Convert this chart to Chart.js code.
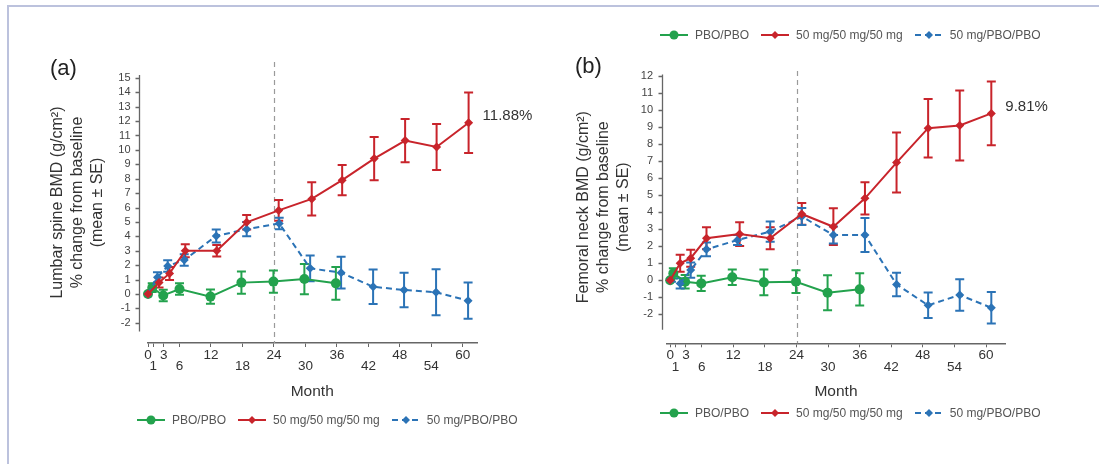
<!DOCTYPE html>
<html>
<head>
<meta charset="utf-8">
<script src="https://cdn.jsdelivr.net/npm/chart.js@4.4.1/dist/chart.umd.min.js"></script>
<style>
  html, body { margin: 0; padding: 0; background: #fff; }
  body { width: 1099px; height: 464px; position: relative; overflow: hidden; font-family: "Liberation Sans", Arial, sans-serif; }
  .frame { position: absolute; left: 7px; top: 5px; right: -10px; bottom: -10px; border-top: 2px solid #bcc2dd; border-left: 2px solid #bcc2dd; }
  .panel { position: absolute; top: 0; }
  .tag { position: absolute; font-size: 22px; line-height: 22px; color: #222; }
  .legend { position: absolute; display: flex; align-items: center; font-size: 12px; line-height: 14px; color: #555; white-space: nowrap; }
  .legend .item { display: flex; align-items: center; margin-right: 12px; }
  .legend svg { margin-right: 7px; }
</style>
</head>
<body>
<div class="frame"></div>
<canvas id="spine" class="panel" width="549" height="464" style="left:0"></canvas>
<canvas id="neck" class="panel" width="550" height="464" style="left:549px"></canvas>
<div class="tag" style="left:50px; top:57px">(a)</div>
<div class="tag" style="left:575px; top:55px">(b)</div>
<div class="legend" id="legendA" style="left:137px; top:413px"></div>
<div class="legend" id="legendBTop" style="left:660px; top:28px"></div>
<div class="legend" id="legendB" style="left:660px; top:406px"></div>

<script>
const seriesNames = ['PBO/PBO', '50 mg/50 mg/50 mg', '50 mg/PBO/PBO'];
const monthTicks = [0, 1, 3, 6, 12, 18, 24, 30, 36, 42, 48, 54, 60];
const upperRowMonths = [0, 3, 12, 24, 36, 48, 60];

// (a) lumbar spine
const spineTicks = [15, 14, 13, 12, 11, 10, 9, 8, 7, 6, 5, 4, 3, 2, 1, 0, -1, -2];
const spinePboX = [0, 0.8, 2.9, 6, 11.9, 17.8, 23.9, 29.8, 35.8];
const spinePboY = [0, 0.44, -0.1, 0.35, -0.18, 0.79, 0.86, 1.04, 0.74];
const spinePboSE = [0, 0.3, 0.4, 0.4, 0.5, 0.77, 0.77, 1.05, 1.13];
const spineContX = [0, 2.1, 4.1, 7.1, 13.1, 18.8, 24.9, 31.2, 37, 43.1, 49, 55, 61.1];
const spineContY = [0, 0.8, 1.43, 3.0, 3.0, 4.98, 5.8, 6.6, 7.9, 9.4, 10.65, 10.2, 11.88];
const spineContSE = [0, 0.35, 0.45, 0.45, 0.4, 0.5, 0.72, 1.15, 1.05, 1.5, 1.5, 1.6, 2.1];
const spineStopX = [0, 1.8, 3.75, 6.9, 13, 18.8, 25, 30.9, 36.8, 42.9, 48.8, 54.9, 61];
const spineStopY = [0, 1.16, 1.94, 2.36, 4.03, 4.5, 4.9, 1.78, 1.48, 0.5, 0.28, 0.12, -0.46];
const spineStopSE = [0, 0.35, 0.4, 0.4, 0.45, 0.5, 0.4, 0.9, 1.1, 1.2, 1.2, 1.6, 1.26];

// (b) femoral neck
const neckTicks = [12, 11, 10, 9, 8, 7, 6, 5, 4, 3, 2, 1, 0, -1, -2];
const neckPboX = [0, 0.6, 2.85, 5.9, 11.8, 17.8, 23.9, 29.9, 36];
const neckPboY = [0, 0.41, -0.08, -0.18, 0.18, -0.12, -0.08, -0.73, -0.53];
const neckPboSE = [0, 0.3, 0.4, 0.45, 0.45, 0.75, 0.67, 1.03, 0.95];
const neckContX = [0, 1.9, 3.9, 6.9, 13.2, 19, 25, 31, 37, 43, 49, 55, 61];
const neckContY = [0, 1.0, 1.3, 2.47, 2.72, 2.47, 3.9, 3.15, 4.82, 6.92, 8.94, 9.1, 9.81];
const neckContSE = [0, 0.5, 0.5, 0.65, 0.7, 0.65, 0.64, 1.08, 0.95, 1.76, 1.72, 2.06, 1.88];
const neckStopX = [0, 1.9, 3.9, 6.9, 12.8, 19, 25, 31, 37, 43, 49, 55, 61];
const neckStopY = [0, -0.18, 0.6, 1.82, 2.37, 2.86, 3.75, 2.66, 2.66, -0.24, -1.47, -0.86, -1.61];
const neckStopSE = [0, 0.3, 0.45, 0.4, 0.3, 0.6, 0.5, 0.5, 1.0, 0.69, 0.75, 0.93, 0.93];

const seriesStyle = [
  { color: '#23a24d', dash: [], point: 'circle', radius: 5, order: 2 },
  { color: '#c8242b', dash: [], point: 'rectRot', radius: 4.5, order: 0 },
  { color: '#2b73b6', dash: [6, 4], point: 'rectRot', radius: 4.5, order: 1 },
];

const FONT = '"Liberation Sans", Arial, sans-serif';

function points(xs, ys) {
  return xs.map((x, i) => ({ x: x, y: ys[i] }));
}

// error bars, month-24 divider, detached y axis and end label
const panelDecor = {
  id: 'panelDecor',
  beforeDatasetsDraw(chart, args, opts) {
    const { ctx, chartArea, scales: { x, y } } = chart;
    ctx.save();

    ctx.strokeStyle = '#9a9a9a';
    ctx.lineWidth = 1.2;
    ctx.setLineDash([5, 4]);
    const dx = Math.round(x.getPixelForValue(opts.divider)) + 0.5;
    ctx.beginPath();
    ctx.moveTo(dx, chartArea.top);
    ctx.lineTo(dx, chartArea.bottom);
    ctx.stroke();
    ctx.setLineDash([]);

    const ax = Math.round(x.getPixelForValue(opts.yAxisAt)) + 0.5;
    ctx.strokeStyle = '#666';
    ctx.lineWidth = 1.3;
    ctx.beginPath();
    ctx.moveTo(ax, y.getPixelForValue(opts.yAxisFrom));
    ctx.lineTo(ax, y.getPixelForValue(opts.yAxisTo));
    y.ticks.forEach((t) => {
      const py = Math.round(y.getPixelForValue(t.value)) + 0.5;
      ctx.moveTo(ax - 4, py);
      ctx.lineTo(ax, py);
    });
    ctx.stroke();

    chart.data.datasets.forEach((ds) => {
      ctx.strokeStyle = ds.borderColor;
      ctx.lineWidth = 2;
      ds.data.forEach((p, j) => {
        const e = ds.errors[j];
        if (!e) return;
        const px = x.getPixelForValue(p.x);
        const hi = y.getPixelForValue(p.y + e);
        const lo = y.getPixelForValue(p.y - e);
        ctx.beginPath();
        ctx.moveTo(px, hi);
        ctx.lineTo(px, lo);
        ctx.moveTo(px - 4.5, hi);
        ctx.lineTo(px + 4.5, hi);
        ctx.moveTo(px - 4.5, lo);
        ctx.lineTo(px + 4.5, lo);
        ctx.stroke();
      });
    });
    ctx.restore();
  },
  afterDatasetsDraw(chart, args, opts) {
    const { ctx, scales: { x, y } } = chart;
    const ds = chart.data.datasets[opts.labelSeries];
    const last = ds.data[ds.data.length - 1];
    ctx.save();
    ctx.fillStyle = '#333';
    ctx.font = '15px ' + FONT;
    ctx.textBaseline = 'middle';
    ctx.fillText(last.y.toFixed(2) + '%', x.getPixelForValue(last.x) + 14, y.getPixelForValue(last.y) - 7);
    ctx.restore();
  },
};

function makePanel(id, cfg) {
  const datasets = cfg.series.map((s, i) => {
    const st = seriesStyle[i];
    return {
      label: seriesNames[i],
      data: points(s.x, s.y),
      errors: s.se,
      borderColor: st.color,
      backgroundColor: st.color,
      borderWidth: 2,
      borderDash: st.dash,
      pointStyle: st.point,
      pointRadius: st.radius,
      pointBorderWidth: 0,
      order: st.order,
      tension: 0,
      clip: false,
    };
  });

  return new Chart(document.getElementById(id), {
    type: 'line',
    data: { datasets: datasets },
    options: {
      responsive: false,
      animation: false,
      devicePixelRatio: 1,
      layout: { padding: cfg.padding },
      plugins: {
        legend: { display: false },
        tooltip: { enabled: false },
        panelDecor: {
          divider: 24,
          yAxisAt: cfg.yAxisAt,
          yAxisFrom: cfg.yAxisFrom,
          yAxisTo: cfg.yAxisTo,
          labelSeries: 1,
        },
      },
      scales: {
        x: {
          type: 'linear',
          min: cfg.xMin,
          max: cfg.xMax,
          afterFit: (scale) => { scale.height = 60; },
          afterBuildTicks: (scale) => { scale.ticks = monthTicks.map((v) => ({ value: v })); },
          border: { display: true, color: '#666', width: 1.5 },
          grid: { display: true, drawOnChartArea: false, drawTicks: true, tickLength: 4, color: '#666' },
          ticks: {
            autoSkip: false,
            maxRotation: 0,
            padding: 2.5,
            color: '#333',
            font: { family: FONT, size: 13.5, lineHeight: '11.5px' },
            callback: (v) => upperRowMonths.includes(v) ? [String(v)] : ['', String(v)],
          },
          title: {
            display: true,
            text: 'Month',
            color: '#333',
            font: { family: FONT, size: 15.5, lineHeight: 1 },
            padding: { top: 0, bottom: 3.5 },
          },
        },
        y: {
          min: cfg.yMin,
          max: cfg.yMax,
          afterFit: (scale) => { scale.width = cfg.yWidth; },
          afterBuildTicks: (scale) => { scale.ticks = cfg.yTicks.map((v) => ({ value: v })); },
          border: { display: false },
          grid: { display: false, drawTicks: false },
          ticks: {
            padding: cfg.yTickPad,
            color: '#444',
            font: { family: FONT, size: 11 },
          },
          title: {
            display: true,
            text: cfg.yTitle,
            color: '#333',
            font: { family: FONT, size: 16, lineHeight: '20px' },
            padding: 0,
          },
        },
      },
    },
    plugins: [panelDecor],
  });
}

makePanel('spine', {
  series: [
    { x: spinePboX, y: spinePboY, se: spinePboSE },
    { x: spineContX, y: spineContY, se: spineContSE },
    { x: spineStopX, y: spineStopY, se: spineStopSE },
  ],
  yTicks: spineTicks,
  yMin: -3.4,
  yMax: 16.1,
  xMin: -0.1,
  xMax: 62.7,
  yAxisAt: -1.66,
  yAxisFrom: 15.2,
  yAxisTo: -2.6,
  yWidth: 100,
  yTickPad: 17,
  yTitle: ['Lumbar spine BMD (g/cm²)', '% change from baseline', '(mean ± SE)'],
  padding: { left: 47.5, top: 62, right: 72, bottom: 61 },
});

makePanel('neck', {
  series: [
    { x: neckPboX, y: neckPboY, se: neckPboSE },
    { x: neckContX, y: neckContY, se: neckContSE },
    { x: neckStopX, y: neckStopY, se: neckStopSE },
  ],
  yTicks: neckTicks,
  yMin: -3.7,
  yMax: 12.3,
  xMin: -0.6,
  xMax: 63.6,
  yAxisAt: -1.58,
  yAxisFrom: 12.1,
  yAxisTo: -2.9,
  yWidth: 93,
  yTickPad: 14,
  yTitle: ['Femoral neck BMD (g/cm²)', '% change from baseline', '(mean ± SE)'],
  padding: { left: 25, top: 71, right: 94, bottom: 60.7 },
});

function legendSymbol(st) {
  const dash = st.dash.length ? ' stroke-dasharray="' + st.dash.join(',') + '"' : '';
  const mark = st.point === 'circle'
    ? '<circle cx="14" cy="6" r="4.5" fill="' + st.color + '"/>'
    : '<path d="M14 2 L18 6 L14 10 L10 6 Z" fill="' + st.color + '"/>';
  return '<svg width="28" height="12"><line x1="0" y1="6" x2="28" y2="6" stroke="' + st.color +
    '" stroke-width="2"' + dash + '/>' + mark + '</svg>';
}

['legendA', 'legendBTop', 'legendB'].forEach((id) => {
  document.getElementById(id).innerHTML = seriesNames.map((name, i) =>
    '<span class="item">' + legendSymbol(seriesStyle[i]) + '<span>' + name + '</span></span>').join('');
});
</script>
</body>
</html>
